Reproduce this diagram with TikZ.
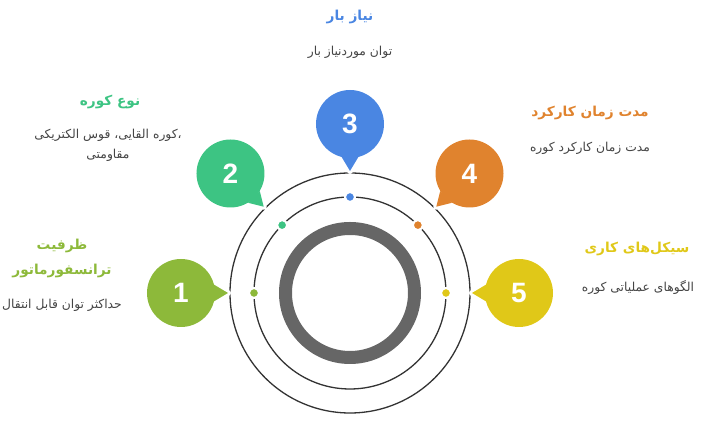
\documentclass[tikz,border=0pt]{standalone}
\usepackage{fontspec}
\setmainfont{Liberation Sans}
\newfontfamily\arabicfont[Script=Arabic]{DejaVu Sans}
\TeXXeTstate=1
\definecolor{c1}{RGB}{141,185,58}
\definecolor{c2}{RGB}{61,196,131}
\definecolor{c3}{RGB}{74,134,226}
\definecolor{c4}{RGB}{224,131,46}
\definecolor{c5}{RGB}{224,200,24}
\definecolor{txtgray}{RGB}{68,68,68}
\definecolor{linegray}{RGB}{51,51,51}
\definecolor{ringgray}{RGB}{102,102,102}
\newcommand{\fa}[1]{\beginR #1\endR}

\begin{document}
\begin{tikzpicture}[x=1pt,y=1pt,
  bubble/.style={circle,minimum size=68pt,inner sep=0pt,text=white,
    font=\fontsize{28}{28}\selectfont\bfseries},
  dot/.style={circle,minimum size=10pt,inner sep=0pt,draw=white,line width=2pt},
  title/.style={font=\arabicfont\bfseries\fontsize{13.7}{25}\selectfont,align=center},
  desc/.style={font=\arabicfont\fontsize{12.3}{20}\selectfont,text=txtgray,align=center}]
  \useasboundingbox (-350,-134) rectangle (359,293);
  \draw[ringgray,line width=13pt] (0,0) circle (64.5);
  \draw[linegray,line width=1.3pt] (0,0) circle (96);
  \draw[linegray,line width=1.3pt] (0,0) circle (120);
  \foreach \i/\a in {1/180,2/135,3/90,4/45,5/0} {
    \node[dot,fill=c\i] (d_\i) at (\a:96) {};
    \coordinate (p_\i) at (\a:122);
    \node[bubble,fill=c\i] (b_\i) at (\a:169) {\i};
    \pgfmathtruncatemacro\lft{\a+166}
    \pgfmathtruncatemacro\rgt{\a+194}
    \fill[white] (p_\i) circle (3);
    \fill[c\i] (b_\i.\lft) -- (p_\i) -- (b_\i.\rgt) -- cycle;
  }
  % texts
  \node[title,text=c3] (t_3) at (0,276) {\fa{نیاز بار}};
  \node[desc] (s_3) at (0,241) {\fa{توان موردنیاز بار}};
  \node[title,text=c2] (t_2) at (-240,191) {\fa{نوع کوره}};
  \node[desc] (s_2) at (-242,148)
    {\mbox{الکتریکی} \mbox{قوس} \mbox{،}\mbox{القایی} \mbox{کوره}\mbox{،}\\\fa{مقاومتی}};
  \node[title,text=c4] (t_4) at (240,180) {\fa{مدت زمان کارکرد}};
  \node[desc] (s_4) at (240,145) {\fa{مدت زمان کارکرد کوره}};
  \node[title,text=c1] (t_1) at (-288,35) {\fa{ظرفیت}\\\fa{ترانسفورماتور}};
  \node[desc] (s_1) at (-288,-12) {\fa{حداکثر توان قابل انتقال}};
  \node[title,text=c5] (t_5) at (287,44) {\fa{سیکل‌های کاری}};
  \node[desc] (s_5) at (288,6) {\fa{الگوهای عملیاتی کوره}};
\end{tikzpicture}
\end{document}
